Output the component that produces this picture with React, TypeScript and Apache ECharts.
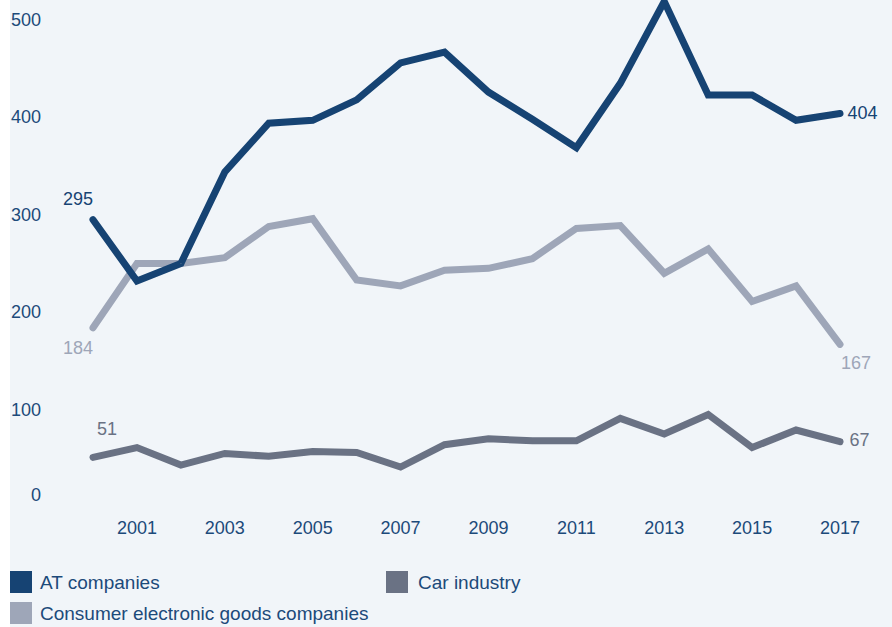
import React, { useEffect, useRef } from "react";
import * as echarts from "echarts";

const years = ["2000","2001","2002","2003","2004","2005","2006","2007","2008","2009","2010","2011","2012","2013","2014","2015","2016","2017"];
const atCompanies = [295, 232, 250, 344, 394, 397, 418, 456, 467, 426, 398, 369, 435, 519, 423, 423, 397, 404];
const consumerElectronics = [184, 250, 250, 256, 288, 296, 233, 227, 243, 245, 255, 286, 289, 240, 265, 211, 227, 167];
const carIndustry = [51, 61, 43, 55, 52, 57, 56, 41, 64, 70, 68, 68, 91, 75, 95, 61, 79, 67];
const yTicks = [0, 100, 200, 300, 400, 500];

const C_AT = "#164373";
const C_CONS = "#9ea6b8";
const C_CAR = "#6a7284";
const C_AXIS = "#1c4a7a";
const FONT = "Liberation Sans, Arial, sans-serif";
const FS = 18;

function withEndLabels(values: number[], color: string, first: any, last: any) {
  return values.map((v, i) => {
    if (i === 0) return { value: v, label: { show: true, color, ...first } };
    if (i === values.length - 1) return { value: v, label: { show: true, color, ...last } };
    return { value: v };
  });
}

export default function App() {
  const ref = useRef<HTMLDivElement>(null);
  useEffect(() => {
    if (!ref.current) return;
    const chart = echarts.init(ref.current, undefined, { renderer: "svg" });
    const lineStyle = (c: string) => ({ color: c, width: 7, cap: "round", join: "miter" });
    const seriesBase = (name: string, c: string) => ({
      name,
      type: "line",
      symbol: "circle",
      symbolSize: 1,
      showSymbol: true,
      clip: false,
      color: c,
      itemStyle: { color: c },
      lineStyle: lineStyle(c),
      emphasis: { disabled: true },
      label: { show: false, fontSize: FS, fontFamily: FONT, distance: 5 },
    });
    chart.setOption({
      animation: false,
      backgroundColor: "#f1f5f9",
      textStyle: { fontFamily: FONT },
      graphic: [
        { type: "rect", left: 0, top: 0, shape: { x: 0, y: 0, width: 10, height: 627 }, style: { fill: "#ffffff" }, z: -1 },
      ],
      grid: { left: 93, right: 52, top: 20, bottom: 120, containLabel: false },
      xAxis: {
        type: "category",
        data: years,
        boundaryGap: false,
        axisLine: { show: false },
        axisTick: { show: false },
        splitLine: { show: false },
        axisLabel: {
          interval: (index: number) => index % 2 === 1,
          color: C_AXIS,
          fontSize: FS,
          fontFamily: FONT,
          margin: 12,
        },
      },
      yAxis: {
        type: "value",
        min: yTicks[0],
        max: yTicks[yTicks.length - 1],
        interval: 100,
        axisLine: { show: false },
        axisTick: { show: false },
        splitLine: { show: false },
        axisLabel: {
          color: C_AXIS,
          fontSize: FS,
          fontFamily: FONT,
          margin: 52,
          formatter: (v: number) => (v === 0 ? "{zero|0}" : String(v)),
          rich: {
            zero: { color: C_AXIS, fontSize: FS, fontFamily: FONT, padding: [0, 0, 24, 0] },
          },
        },
      },
      legend: [
        {
          left: 10,
          top: 571,
          padding: 0,
          orient: "vertical",
          itemWidth: 22,
          itemHeight: 22,
          itemGap: 9,
          icon: "rect",
          data: ["AT companies", "Consumer electronic goods companies"],
          textStyle: { color: C_AXIS, fontSize: 19, fontFamily: FONT, padding: [0, 0, 0, 3] },
        },
        {
          left: 386,
          top: 571,
          padding: 0,
          orient: "vertical",
          itemWidth: 22,
          itemHeight: 22,
          icon: "rect",
          data: ["Car industry"],
          textStyle: { color: C_AXIS, fontSize: 19, fontFamily: FONT, padding: [0, 0, 0, 5] },
        },
      ],
      series: [
        {
          ...seriesBase("Consumer electronic goods companies", C_CONS),
          data: withEndLabels(consumerElectronics, C_CONS,
            { position: "bottom", offset: [-15, 6] },
            { position: "bottom", offset: [16, 4] }),
        },
        {
          ...seriesBase("Car industry", C_CAR),
          data: withEndLabels(carIndustry, C_CAR,
            { position: "top", offset: [14, -14] },
            { position: "right", offset: [4, -2] }),
        },
        {
          ...seriesBase("AT companies", C_AT),
          data: withEndLabels(atCompanies, C_AT,
            { position: "top", offset: [-15, -6] },
            { position: "right", offset: [2, -1] }),
        },
      ],
    });
    return () => chart.dispose();
  }, []);
  return <div ref={ref} style={{ position: "fixed", left: 0, top: 0, width: 892, height: 627 }} />;
}
